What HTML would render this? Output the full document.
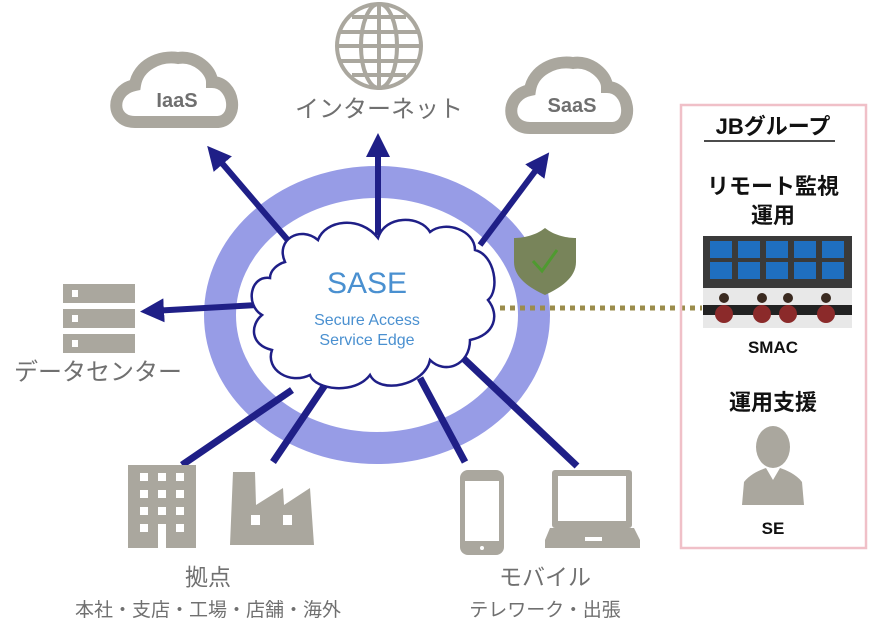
<!DOCTYPE html>
<html><head><meta charset="utf-8"><style>
body{margin:0;background:#fff;}
svg text{font-family:"Liberation Sans","Noto Sans CJK JP",sans-serif;}
</style></head><body>
<svg width="873" height="636" viewBox="0 0 873 636" xmlns="http://www.w3.org/2000/svg">
<defs>
<marker id="ah" markerWidth="4" markerHeight="4" refX="2" refY="2" orient="auto" markerUnits="strokeWidth">
<path d="M0,0 L4,2 L0,4 Z" fill="#1f1f87"/></marker>
</defs>
<ellipse cx="377" cy="315" rx="157" ry="133" fill="none" stroke="#979ce6" stroke-width="32"/>
<g stroke="#1f1f87" stroke-width="6" stroke-linecap="butt">
<line x1="292" y1="245" x2="215" y2="155" marker-end="url(#ah)"/>
<line x1="378" y1="235" x2="378" y2="145" marker-end="url(#ah)"/>
<line x1="480" y1="245" x2="542" y2="162" marker-end="url(#ah)"/>
<line x1="258" y1="305" x2="152" y2="311" marker-end="url(#ah)"/>
<line x1="292" y1="390" x2="182" y2="465" stroke-width="7"/>
<line x1="325" y1="385" x2="273" y2="462" stroke-width="7"/>
<line x1="420" y1="378" x2="465" y2="462" stroke-width="7"/>
<line x1="463" y1="358" x2="577" y2="466" stroke-width="7"/>
</g>
<path d="M285,262 C275,240 300,225 318,240 C325,220 360,215 378,238 C385,215 420,215 430,232 C445,220 475,230 475,250 C495,255 500,290 488,300 C500,315 495,335 470,340 C470,365 445,375 430,360 C425,385 380,395 370,375 C355,395 315,390 310,375 C290,385 265,370 272,350 C250,345 250,325 262,315 C245,305 250,275 270,278 C270,270 278,264 285,262 Z" fill="#fff" stroke="#1f1f87" stroke-width="2.5"/>
<text x="367" y="293" font-size="30" fill="#4a90d0" text-anchor="middle">SASE</text>
<text x="367" y="325" font-size="16" fill="#4a90d0" text-anchor="middle">Secure Access</text>
<text x="367" y="345" font-size="16" fill="#4a90d0" text-anchor="middle">Service Edge</text>
<g fill="none" stroke="#aaa79e" stroke-width="12">
<path d="M135,122 C110,122 110,90 135,85 C138,65 160,55 178,58 C195,55 212,70 212,82 C235,82 240,120 218,122 Z"/>
<path d="M530,128 C505,128 505,95 530,90 C533,70 555,60 573,63 C590,60 607,75 607,87 C630,87 635,126 613,128 Z"/>
</g>
<text x="177" y="107" font-size="20" fill="#6f6f6f" text-anchor="middle" font-weight="bold">IaaS</text>
<text x="572" y="112" font-size="20" fill="#6f6f6f" text-anchor="middle" font-weight="bold">SaaS</text>
<g fill="none" stroke="#aaa79e" stroke-width="4">
<ellipse cx="379" cy="46" rx="42" ry="42"/>
<ellipse cx="379" cy="46" rx="18" ry="42"/>
<line x1="379" y1="4" x2="379" y2="88"/>
<line x1="340" y1="32" x2="418" y2="32"/>
<line x1="337" y1="46" x2="421" y2="46"/>
<line x1="340" y1="61" x2="418" y2="61"/>
<line x1="352" y1="17" x2="406" y2="17"/>
<line x1="352" y1="75" x2="406" y2="75"/>
</g>
<text x="379" y="117" font-size="24" fill="#707070" text-anchor="middle">インターネット</text>
<g fill="#aaa79e"><rect x="63" y="284" width="72" height="19"/><rect x="63" y="309" width="72" height="19"/><rect x="63" y="334" width="72" height="19"/></g>
<g fill="#fff"><rect x="72" y="290" width="6" height="7"/><rect x="72" y="315" width="6" height="7"/><rect x="72" y="340" width="6" height="7"/></g>
<text x="98" y="380" font-size="24" fill="#707070" text-anchor="middle">データセンター</text>
<rect x="128" y="465" width="68" height="83" fill="#aaa79e"/>
<g fill="#fff">
<rect x="140" y="473" width="8" height="8"/><rect x="158" y="473" width="8" height="8"/><rect x="176" y="473" width="8" height="8"/>
<rect x="140" y="490" width="8" height="8"/><rect x="158" y="490" width="8" height="8"/><rect x="176" y="490" width="8" height="8"/>
<rect x="140" y="507" width="8" height="8"/><rect x="158" y="507" width="8" height="8"/><rect x="176" y="507" width="8" height="8"/>
<rect x="140" y="524" width="8" height="8"/><rect x="176" y="524" width="8" height="8"/>
<rect x="158" y="524" width="8" height="24"/>
</g>
<path d="M230,545 L233,472 L255,472 L256,505 L283,488 L284,505 L310,488 L314,545 Z" fill="#aaa79e"/>
<rect x="251" y="515" width="9" height="10" fill="#fff"/><rect x="283" y="515" width="9" height="10" fill="#fff"/>
<rect x="460" y="470" width="44" height="85" rx="8" fill="#aaa79e"/>
<rect x="465" y="481" width="34" height="60" fill="#fff"/>
<circle cx="482" cy="548" r="2" fill="#fff"/>
<rect x="552" y="470" width="80" height="58" rx="3" fill="#aaa79e"/>
<rect x="558" y="476" width="68" height="45" fill="#fff"/>
<path d="M545,540 L550,528 L634,528 L640,540 L640,548 L545,548 Z" fill="#aaa79e"/>
<rect x="585" y="537" width="17" height="4" fill="#fff"/>
<text x="208" y="585" font-size="23" fill="#707070" text-anchor="middle">拠点</text>
<text x="208" y="616" font-size="19" fill="#707070" text-anchor="middle">本社・支店・工場・店舗・海外</text>
<text x="545" y="585" font-size="23" fill="#707070" text-anchor="middle">モバイル</text>
<text x="545" y="616" font-size="19" fill="#707070" text-anchor="middle">テレワーク・出張</text>
<path d="M545,228 C555,236 568,238 576,238 L576,262 C576,278 560,288 545,295 C530,288 514,278 514,262 L514,238 C522,238 535,236 545,228 Z" fill="#78845a"/>
<path d="M533,261 L542,271 L557,250" fill="none" stroke="#4f9a30" stroke-width="3"/>
<line x1="500" y1="308" x2="702" y2="308" stroke="#9b8c4c" stroke-width="5" stroke-dasharray="5,5"/>
<rect x="681" y="105" width="185" height="443" fill="none" stroke="#f0c0c8" stroke-width="2.5"/>
<text x="773" y="134" font-size="22" fill="#111" text-anchor="middle" font-weight="bold">JBグループ</text>
<line x1="704" y1="141" x2="835" y2="141" stroke="#111" stroke-width="1.5"/>
<text x="773" y="194" font-size="22" fill="#111" text-anchor="middle" font-weight="bold">リモート監視</text>
<text x="773" y="223" font-size="22" fill="#111" text-anchor="middle" font-weight="bold">運用</text>
<rect x="703" y="236" width="149" height="92" fill="#e8e8e8"/>
<rect x="703" y="236" width="149" height="52" fill="#3a3a3a"/>
<g fill="#1f6fc0">
<rect x="710" y="241" width="22" height="17"/><rect x="738" y="241" width="22" height="17"/><rect x="766" y="241" width="22" height="17"/><rect x="794" y="241" width="22" height="17"/><rect x="822" y="241" width="22" height="17"/>
<rect x="710" y="262" width="22" height="17"/><rect x="738" y="262" width="22" height="17"/><rect x="766" y="262" width="22" height="17"/><rect x="794" y="262" width="22" height="17"/><rect x="822" y="262" width="22" height="17"/>
</g>
<rect x="703" y="305" width="149" height="10" fill="#222"/>
<g fill="#8b2a2a"><circle cx="724" cy="314" r="9"/><circle cx="762" cy="314" r="9"/><circle cx="788" cy="314" r="9"/><circle cx="826" cy="314" r="9"/></g>
<g fill="#3a2a20"><circle cx="724" cy="298" r="5"/><circle cx="762" cy="298" r="5"/><circle cx="788" cy="298" r="5"/><circle cx="826" cy="298" r="5"/></g>
<text x="773" y="353" font-size="17" fill="#111" text-anchor="middle" font-weight="bold">SMAC</text>
<text x="773" y="410" font-size="22" fill="#111" text-anchor="middle" font-weight="bold">運用支援</text>
<ellipse cx="773" cy="447" rx="17" ry="21" fill="#aaa79e"/>
<path d="M742,505 L744,482 C750,474 760,470 766,468 L773,480 L780,468 C786,470 796,474 802,482 L804,505 Z" fill="#aaa79e"/>
<text x="773" y="534" font-size="17" fill="#111" text-anchor="middle" font-weight="bold">SE</text>
</svg>
</body></html>
